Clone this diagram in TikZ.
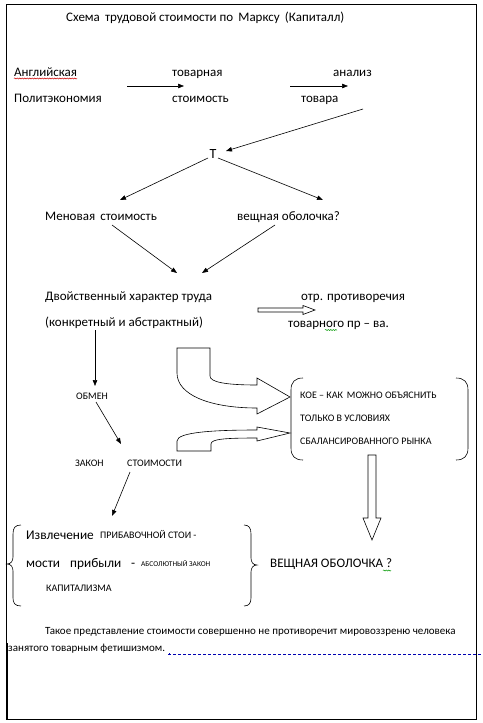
\documentclass[tikz,border=0pt]{standalone}
\usepackage{fontspec}
\setmainfont{Carlito}
\usetikzlibrary{arrows.meta,decorations.pathmorphing}
\begin{document}
\begin{tikzpicture}[x=1pt,y=-1pt,
  txt/.style={anchor=base west,inner sep=0pt,font=\fontsize{13}{15}\selectfont},
  btxt/.style={anchor=base west,inner sep=0pt,font=\fontsize{13.3}{16}\selectfont},
  sm/.style={anchor=base west,inner sep=0pt,font=\fontsize{10}{12}\selectfont},
  tiny/.style={anchor=base west,inner sep=0pt,font=\fontsize{7.4}{9}\selectfont},
  partxt/.style={anchor=base west,inner sep=0pt,font=\fontsize{11}{13}\selectfont},
  arr/.style={draw,line width=0.6pt,-{Triangle[length=6pt,width=4.5pt]}},
  hollow/.style={draw,line width=0.6pt,fill=white,line join=miter},
  brk/.style={draw,line width=0.6pt},
  squig/.style={decorate,decoration={snake,amplitude=0.6pt,segment length=2.5pt},line width=0.5pt}]
\useasboundingbox (0,0) rectangle (482,723);
\fill[white] (0,0) rectangle (482,723);
% frame
\draw[line width=1pt] (6.5,4.5) rectangle (476.5,719);
\draw[line width=1.6pt] (7.3,643) -- (7.3,719);
% title
\node[txt] (title) at (66,21) {Схема\, трудовой стоимости по\, Марксу\, (Капиталл)};
% top row
\node[txt] (angl) at (14,76) {Английская};
\node[txt] (polit) at (14,102) {Политэкономия};
\node[txt] (tovarnaya) at (172,76) {товарная};
\node[txt] (stoim) at (172,102) {стоимость};
\node[txt] (analiz) at (333,76) {анализ};
\node[txt] (tovara) at (301,102) {товара};
\draw[squig,red!80!black] (14,78.5) -- (77,78.5);
\coordinate (a1s) at (127,86); \coordinate (a1e) at (184,86);
\coordinate (a2s) at (290,86); \coordinate (a2e) at (348,86);
\draw[arr] (a1s) -- (a1e);
\draw[arr] (a2s) -- (a2e);
% T
\node[anchor=base,inner sep=0pt,font=\fontsize{14}{16}\selectfont] (T) at (213,158) {Т};
\coordinate (tin) at (363,109); \coordinate (tine) at (226,151);
\draw[arr] (tin) -- (tine);
\coordinate (tl) at (208,158); \coordinate (tle) at (120,200);
\coordinate (tr) at (218,158); \coordinate (tre) at (323,200);
\draw[arr] (tl) -- (tle);
\draw[arr] (tr) -- (tre);
\node[txt] (menov) at (45,220) {Меновая\, стоимость};
\node[txt] (veshn) at (237,220) {вещная оболочка?};
\coordinate (m1) at (112,225); \coordinate (m1e) at (177,273);
\coordinate (v1) at (275,225); \coordinate (v1e) at (202,273);
\draw[arr] (m1) -- (m1e);
\draw[arr] (v1) -- (v1e);
% dual character
\node[txt] (dvoist) at (45,300) {Двойственный характер труда};
\node[txt] (konkr) at (45,326) {(конкретный и абстрактный)};
\node[txt] (otr) at (301,300) {отр. противоречия};
\node[txt] (tovprva) at (288,327) {товарного пр – ва.};
\draw[squig,green!60!black] (325,330) -- (337,330);
\path[hollow] (258,308) -- (303,308) -- (303,305.5) -- (315,310) -- (303,314.5) -- (303,312) -- (258,312) -- cycle;
% obmen chain
\coordinate (d1) at (95,330); \coordinate (d1e) at (95,386);
\draw[arr] (d1) -- (d1e);
\node[sm] (obmen) at (76,399.5) {ОБМЕН};
\coordinate (o1) at (96,402); \coordinate (o1e) at (121,444);
\draw[arr] (o1) -- (o1e);
\node[sm] (zakon) at (75,466.5) {ЗАКОН};
\node[sm] (stoimosti) at (127,466.5) {СТОИМОСТИ};
\coordinate (z1) at (130,472); \coordinate (z1e) at (112,516);
\draw[arr] (z1) -- (z1e);
% curved block arrows
\path[hollow] (177,348) -- (210,348) -- (210,376)
  .. controls (210,382) and (225,385) .. (257,385)
  -- (257,378) -- (290,397) -- (257,414) -- (257,408)
  .. controls (210,408) and (177,395) .. (177,373) -- cycle;
\path[hollow] (177,451) -- (177,441)
  .. controls (177,432) and (215,430) .. (257,430)
  -- (257,427) -- (290,433) -- (257,441) -- (257,438)
  .. controls (225,438) and (211,439) .. (211,444)
  -- (211,451) -- cycle;
% bracket box
\draw[brk] (303,378) .. controls (295,378) and (291,382) .. (291,390) -- (291,448) .. controls (291,456) and (295,460) .. (303,460);
\draw[brk] (456,378) .. controls (464,378) and (468,382) .. (468,390) -- (468,448) .. controls (468,456) and (464,460) .. (456,460);
\node[sm] (koe) at (300,398.5) {КОЕ – КАК\, МОЖНО ОБЪЯСНИТЬ};
\node[sm] (tolko) at (300,421.5) {ТОЛЬКО В УСЛОВИЯХ};
\node[sm] (sbal) at (300,444.5) {СБАЛАНСИРОВАННОГО РЫНКА};
% down block arrow
\path[hollow] (368,455) -- (376,455) -- (376,518) -- (381,518) -- (372,540) -- (363,518) -- (368,518) -- cycle;
% braces
\draw[brk] (21,525) .. controls (15,525) and (13,528) .. (13,534) -- (13,557) .. controls (13,561) and (11,564) .. (7,564) .. controls (11,564) and (13,567) .. (13,571) -- (13,598) .. controls (13,603) and (15,606) .. (21,606);
\draw[brk] (244,525) .. controls (249,525) and (251,528) .. (251,534) -- (251,558) .. controls (251,562) and (253,565) .. (257,565) .. controls (253,565) and (251,568) .. (251,572) -- (251,598) .. controls (251,603) and (249,606) .. (244,606);
\node[btxt] (izvl) at (26,539) {Извлечение};
\node[sm] (pribav) at (100,538.5) {ПРИБАВОЧНОЙ СТОИ -};
\node[btxt] (mosti) at (26,567) {мости};
\node[btxt] (pribyli) at (70,567) {прибыли};
\node[btxt] (dash) at (131,567) {-};
\node[tiny] (absol) at (141,566.5) {АБСОЛЮТНЫЙ ЗАКОН};
\node[sm] (kapit) at (46,591.5) {КАПИТАЛИЗМА};
\node[txt] (veshnaya) at (270,567) {ВЕЩНАЯ ОБОЛОЧКА ?};
\draw[squig,green!60!black] (383,570.5) -- (391,570.5);
% final paragraph
\node[partxt] (p1) at (45,634) {Такое представление стоимости совершенно не противоречит мировоззреню человека};
\node[partxt] (p2) at (8,651) {занятого товарным фетишизмом.};
\coordinate (dash1) at (168,654); \coordinate (dash2) at (482,654);
\draw[blue!70!black,line width=0.6pt,dash pattern=on 3pt off 2pt] (dash1) -- (dash2);
\fill[blue!70!black] (168.5,653) rectangle (170,655);
\end{tikzpicture}
\end{document}
